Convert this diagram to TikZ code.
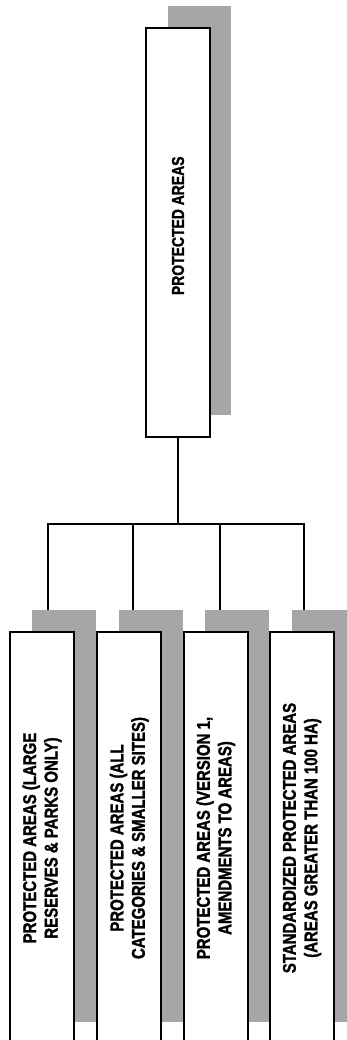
\documentclass[tikz,border=0pt]{standalone}
\usepackage{fontspec}
\newfontfamily\condfont{Liberation Sans}[FakeStretch=0.81,
  BoldFont={Liberation Sans Bold}, BoldFeatures={FakeStretch=0.81, FakeBold=1.5}]
\usetikzlibrary{shadows,backgrounds}
\definecolor{shade}{gray}{0.65}
\tikzset{
  box/.style={draw=black, line width=2pt, fill=white, inner sep=0pt,
    drop shadow={shadow xshift=21.5pt, shadow yshift=22.5pt, fill=shade, opacity=1}},
  childbox/.style={box, minimum width=64pt, minimum height=412pt},
  boxtext/.style={rotate=90, align=center, text=black, inner sep=0pt,
    font=\condfont\bfseries\fontsize{18.5}{21.5}\selectfont},
  toptext/.style={boxtext, font=\condfont\bfseries\fontsize{17.2}{20}\selectfont},
  link/.style={line width=2pt, line cap=rect},
}
\begin{document}
\begin{tikzpicture}[x=1pt, y=-1pt]
\useasboundingbox (0,0) rectangle (347,1040);
\clip (0,0) rectangle (347,1040);
% top box
\node[box, minimum width=63.5pt, minimum height=408.5pt] (top) at (178,232.75) {};
\node[toptext] (toplabel) at ([yshift=7pt]top.center) {PROTECTED AREAS};
% child boxes
\node[childbox] (c1) at (42,838) {};
\node[childbox] (c2) at (129.25,838) {};
\node[childbox] (c3) at (215.75,838) {};
\node[childbox] (c4) at (302,838) {};
\node[boxtext] (t1) at (c1.center) {PROTECTED AREAS (LARGE\\RESERVES \& PARKS ONLY)};
\node[boxtext] (t2) at (c2.center) {PROTECTED AREAS (ALL\\CATEGORIES \& SMALLER SITES)};
\node[boxtext] (t3) at (c3.center) {PROTECTED AREAS (VERSION 1,\\AMENDMENTS TO AREAS)};
\node[boxtext] (t4) at (c4.center) {STANDARDIZED PROTECTED AREAS\\(AREAS GREATER THAN 100 HA)};
% connectors
\coordinate (j) at (178,524);
\coordinate (b1) at (48,524);
\coordinate (b2) at (133,524);
\coordinate (b3) at (220,524);
\coordinate (b4) at (304,524);
\begin{pgfonlayer}{background}
\draw[link] (top.south) -- (j);
\draw[link] (b1) -- (b4);
\draw[link] (b1) -- (b1 |- c1.north);
\draw[link] (b2) -- (b2 |- c2.north);
\draw[link] (b3) -- (b3 |- c3.north);
\draw[link] (b4) -- (b4 |- c4.north);
\end{pgfonlayer}
\end{tikzpicture}
\end{document}
